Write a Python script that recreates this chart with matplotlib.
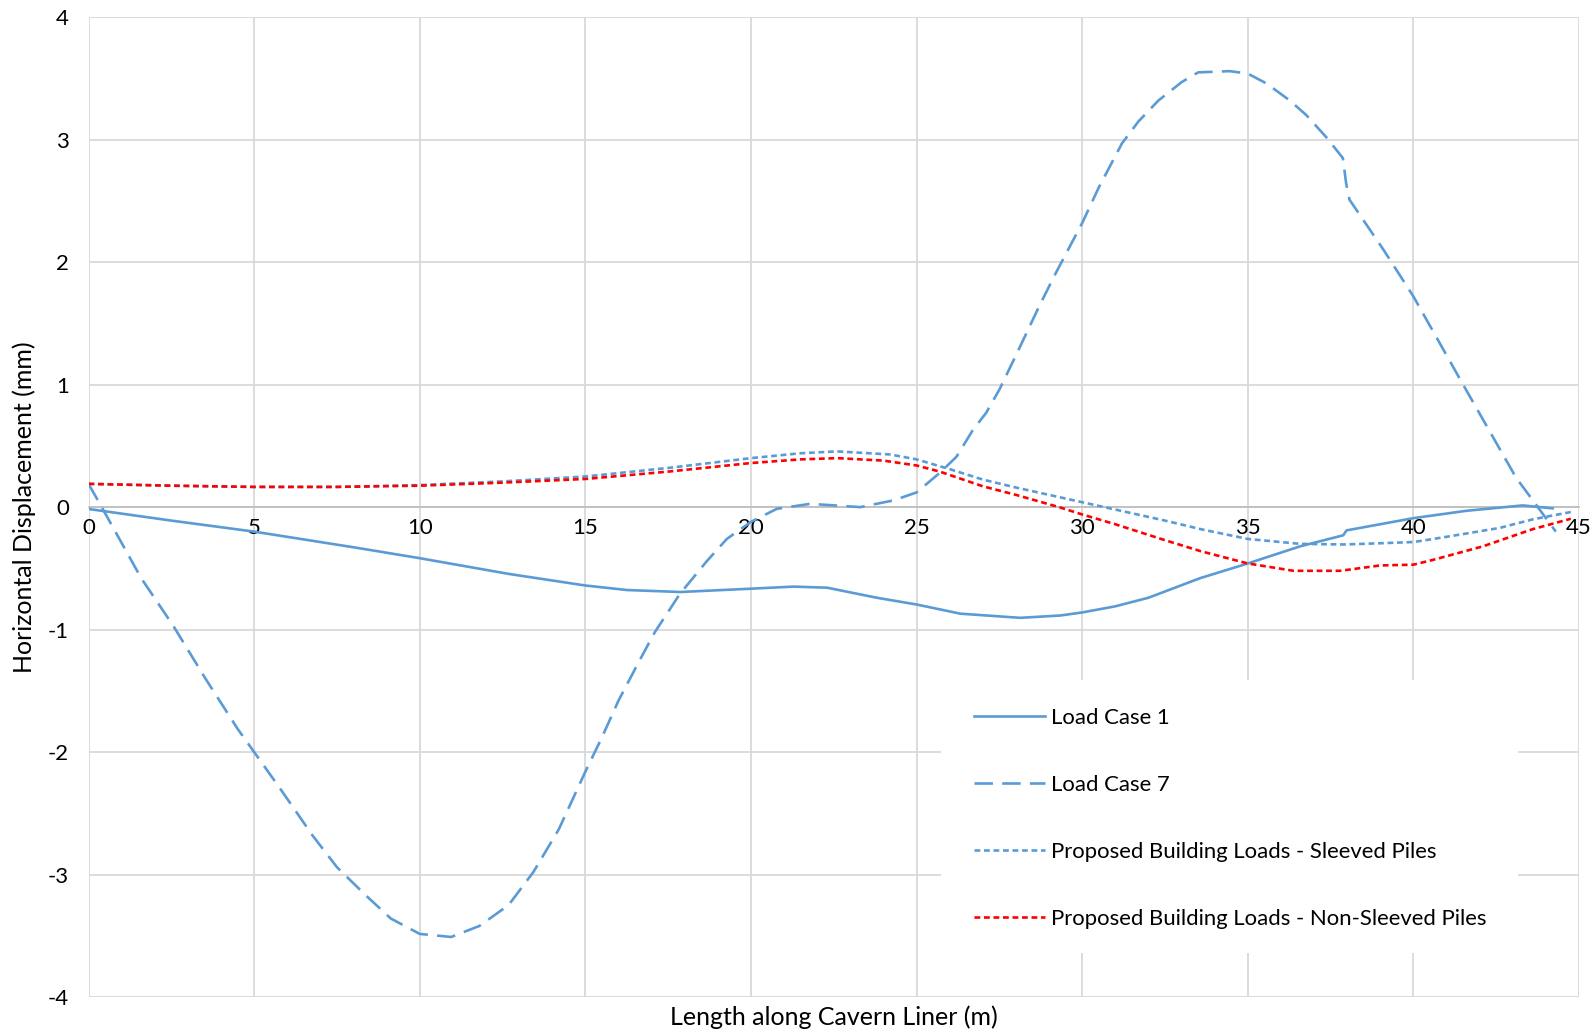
"""Horizontal displacement along the cavern liner for several load cases."""

import matplotlib
matplotlib.use("Agg")
import matplotlib.pyplot as plt
from matplotlib.patches import Rectangle

plt.rcParams["font.family"] = ["Lato", "DejaVu Sans"]
plt.rcParams["axes.unicode_minus"] = False

# Load Case 1 (solid)
lc1_x = [0, 2.5, 5, 8.05, 10, 12.68, 15, 16.26, 17.87, 20, 21.29, 22.3, 23.8, 25,
         26.32, 28.13, 29.34, 30, 31, 32, 33.56, 35, 36.58, 37.88, 37.98, 40,
         41.6, 43.3, 44.2]
lc1_y = [-0.015, -0.11, -0.20, -0.33, -0.417, -0.545, -0.64, -0.677, -0.693, -0.666,
         -0.649, -0.658, -0.74, -0.795, -0.87, -0.904, -0.885, -0.86, -0.81, -0.74,
         -0.58, -0.46, -0.32, -0.23, -0.19, -0.09, -0.03, 0.014, -0.01]

# Load Case 7 (long dash)
lc7_x = [0, 0.46, 1.59, 2.56, 3.53, 4.5, 5, 5.79, 6.76, 7.5, 8.37, 9.13, 10, 10.95,
         11.8, 12.68, 13.43, 14.2, 15, 15.5, 16, 16.64, 17.1, 17.85, 18.67, 19.27,
         20, 20.78, 21.79, 23.3, 24.3, 25, 25.7, 26.2, 26.7, 27.1, 27.5, 28, 28.7,
         29.2, 30, 30.5, 31.2, 31.7, 32.3, 33, 33.5, 34.46, 35, 35.56, 36.27, 36.77,
         37.37, 37.87, 37.97, 38.07, 39.1, 40, 41.5, 43.1, 44.3]
lc7_y = [0.19, -0.03, -0.58, -0.97, -1.40, -1.81, -2.0, -2.30, -2.68, -2.94, -3.17,
         -3.36, -3.485, -3.51, -3.42, -3.25, -2.98, -2.63, -2.16, -1.88, -1.58, -1.25,
         -1.02, -0.71, -0.44, -0.26, -0.12, -0.014, 0.027, 0.0, 0.055, 0.12, 0.28,
         0.41, 0.63, 0.77, 0.96, 1.24, 1.64, 1.91, 2.32, 2.61, 2.97, 3.15, 3.32, 3.47,
         3.55, 3.56, 3.54, 3.46, 3.32, 3.20, 3.02, 2.85, 2.64, 2.51, 2.1, 1.72, 1.0,
         0.24, -0.2]

# Proposed building loads - sleeved piles
sleeved_x = [0, 2.5, 5, 7.5, 10, 12.5, 15, 17.5, 20, 21.5, 22.6, 24.2, 25, 26, 27,
             28, 29, 30, 31, 32.5, 33.58, 35, 36.58, 37.9, 39, 40, 40.6, 41.5, 42.6,
             43.6, 44.75]
sleeved_y = [0.19, 0.175, 0.165, 0.165, 0.18, 0.21, 0.25, 0.32, 0.40, 0.44, 0.455,
             0.43, 0.39, 0.31, 0.225, 0.16, 0.10, 0.04, -0.02, -0.11, -0.18, -0.26,
             -0.30, -0.305, -0.295, -0.285, -0.26, -0.22, -0.17, -0.10, -0.04]

# Proposed building loads - non-sleeved piles
nonsleeved_x = [0, 2.5, 5, 7.5, 10, 12.5, 15, 17.5, 20, 21.5, 22.6, 24, 25, 25.7, 27,
                28, 29.3, 30, 31, 32.5, 33.58, 35, 36.38, 37.79, 39, 40, 40.6, 42.1,
                43.6, 44.75]
nonsleeved_y = [0.19, 0.175, 0.165, 0.165, 0.175, 0.20, 0.23, 0.29, 0.36, 0.39, 0.40,
                0.38, 0.34, 0.29, 0.17, 0.10, 0.0, -0.06, -0.14, -0.27, -0.36, -0.46,
                -0.52, -0.52, -0.476, -0.47, -0.43, -0.32, -0.18, -0.095]

BLUE = "#5B9BD5"
RED = "#FF0000"
GRID = "#D9D9D9"

fig = plt.figure(figsize=(15.95, 10.34), dpi=100)
ax = fig.add_axes([0.0555, 0.0358, 0.9345, 0.9475])

ax.plot(lc1_x, lc1_y, color=BLUE, lw=1.9, label="Load Case 1")
ax.plot(lc7_x, lc7_y, color=BLUE, lw=1.9, dashes=(7, 3.5), label="Load Case 7")
ax.plot(sleeved_x, sleeved_y, color=BLUE, lw=1.9, dashes=(2.2, 1.4),
        label="Proposed Building Loads - Sleeved Piles")
ax.plot(nonsleeved_x, nonsleeved_y, color=RED, lw=1.9, dashes=(2.2, 1.4),
        label="Proposed Building Loads - Non-Sleeved Piles")

ax.set_xlim(0, 45)
ax.set_ylim(-4, 4)
ax.set_xticks(range(0, 46, 5))
ax.set_yticks(range(-4, 5, 1))
ax.grid(True, color=GRID, lw=1.3)
ax.set_axisbelow(True)

for side in ("top", "right", "left"):
    ax.spines[side].set_visible(False)
ax.spines["bottom"].set_position(("data", 0))
ax.spines["bottom"].set_color("#BFBFBF")
ax.spines["bottom"].set_linewidth(1.3)
ax.spines["bottom"].set_zorder(1)
ax.tick_params(axis="both", length=0, labelsize=16)
ax.tick_params(axis="x", pad=8)
ax.tick_params(axis="y", pad=14)

ax.text(0.5, -0.0205, "Length along Cavern Liner (m)", transform=ax.transAxes,
        ha="center", va="center", fontsize=18)
fig.text(0.0153, 0.5097, "Horizontal Displacement (mm)", rotation=90,
         ha="center", va="center", fontsize=18)

# white legend box (Excel plot-area legend)
ax.add_patch(Rectangle((0.572, 0.0449), 0.387, 0.279, transform=ax.transAxes,
                       facecolor="white", edgecolor="none", zorder=4))
leg = ax.legend(loc="upper left", bbox_to_anchor=(0.5944, 0.2948), borderaxespad=0,
                borderpad=0, fontsize=15.9, frameon=False, handlelength=3.2,
                handletextpad=0.28, labelspacing=2.12)
leg.set_zorder(5)

fig.savefig("out.png", dpi=100)
